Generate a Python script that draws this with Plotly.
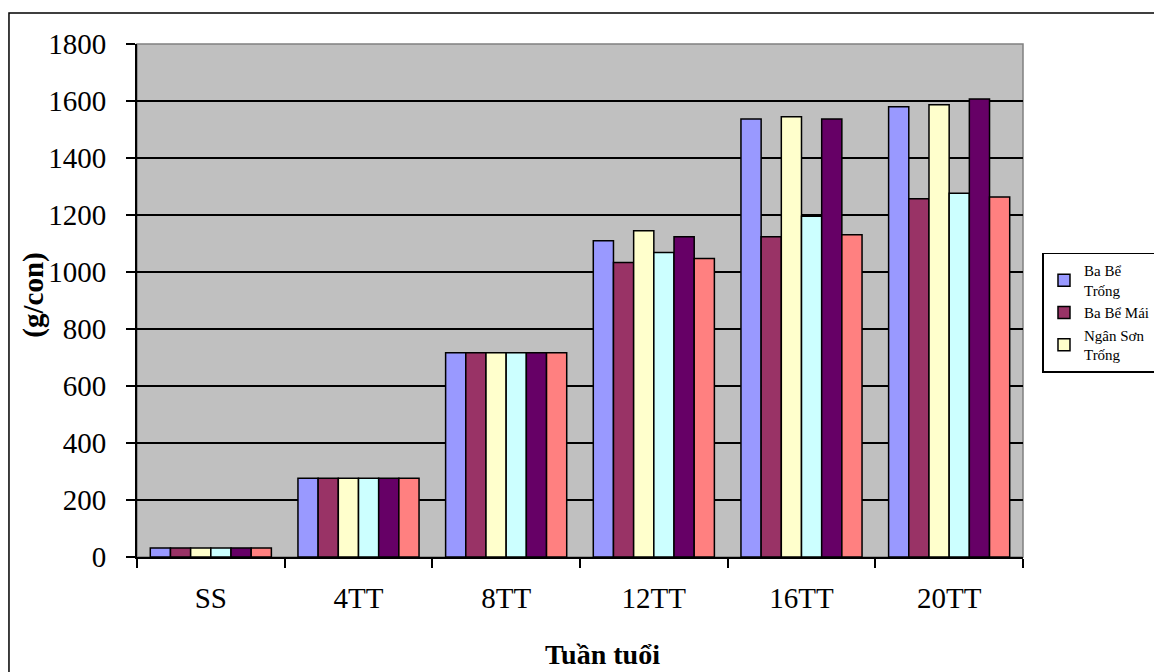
import plotly.graph_objects as go

categories = ["SS", "4TT", "8TT", "12TT", "16TT", "20TT"]
series_names = ["Ba Bể<br>Trống", "Ba Bể Mái", "Ngân Sơn<br>Trống",
                "Ngân Sơn Mái", "Con lai Trống", "Con lai Mái"]
ba_be_trong = [32, 276, 717, 1110, 1537, 1580]
ba_be_mai = [32, 276, 717, 1033, 1124, 1257]
ngan_son_trong = [32, 276, 717, 1145, 1545, 1587]
ngan_son_mai = [32, 276, 717, 1068, 1196, 1276]
lai_trong = [32, 276, 717, 1124, 1537, 1607]
lai_mai = [32, 276, 717, 1047, 1131, 1263]
colors = ["#9999FF", "#993366", "#FFFFCC", "#CCFFFF", "#660066", "#FF8080"]

all_values = [ba_be_trong, ba_be_mai, ngan_son_trong, ngan_son_mai, lai_trong, lai_mai]

fig = go.Figure()
for i, (name, vals) in enumerate(zip(series_names, all_values)):
    fig.add_trace(go.Bar(
        x=categories, y=vals, name=name,
        marker=dict(color=colors[i], line=dict(color="black", width=1.5)),
        showlegend=(i < 3),
    ))

font_family = "Liberation Serif"

# page body has an 8px margin, so the figure is offset by 8px
fig.update_layout(
    width=1154, height=664,
    margin=dict(l=129, r=139, t=36, b=115, autoexpand=False),
    paper_bgcolor="white",
    plot_bgcolor="#C0C0C0",
    barmode="group",
    bargap=0.18,
    bargroupgap=0,
    font=dict(family=font_family, color="black"),
    xaxis=dict(
        type="category",
        tickson="boundaries",
        ticks="outside", ticklen=9, tickwidth=1.5, tickcolor="black",
        showline=True, linecolor="black", linewidth=2,
        showgrid=False,
        tickfont=dict(size=29, family=font_family),
        ticklabelstandoff=14,
        automargin=False,
    ),
    yaxis=dict(
        range=[0, 1800], dtick=200,
        ticks="outside", ticklen=9, tickwidth=1.5, tickcolor="black",
        showline=True, linecolor="black", linewidth=2,
        showgrid=True, gridcolor="black", gridwidth=1.5,
        zeroline=False,
        tickfont=dict(size=29, family=font_family),
        ticklabelstandoff=14,
        automargin=False,
    ),
    legend=dict(
        x=1.022, y=0.593, xanchor="left", yanchor="top",
        bgcolor="white", bordercolor="black", borderwidth=1.5,
        font=dict(size=15, family=font_family, color="black"),
        tracegroupgap=0,
        itemwidth=30,
    ),
    showlegend=True,
)

fig.add_annotation(
    text="<b>(g/con)</b>", textangle=-90,
    xref="paper", yref="paper", x=-0.117, y=0.51,
    xanchor="center", yanchor="middle", showarrow=False,
    font=dict(size=29, family=font_family, color="black"),
)
fig.add_annotation(
    text="<b>Tuần tuổi</b>",
    xref="paper", yref="paper", x=0.525, y=-0.19,
    xanchor="center", yanchor="middle", showarrow=False,
    font=dict(size=28, family=font_family, color="black"),
)

# outer chart border
fig.add_shape(type="rect", xref="paper", yref="paper",
              x0=-0.1445, y0=-0.4, x1=1.3, y1=1.0604,
              line=dict(color="black", width=1.5), fillcolor="rgba(0,0,0,0)",
              layer="below")
# plot area border (grey)
fig.add_shape(type="rect", xref="paper", yref="paper",
              x0=0, y0=0, x1=1, y1=1,
              line=dict(color="#808080", width=1.5), fillcolor="rgba(0,0,0,0)",
              layer="below")

fig.write_html("out.html")
